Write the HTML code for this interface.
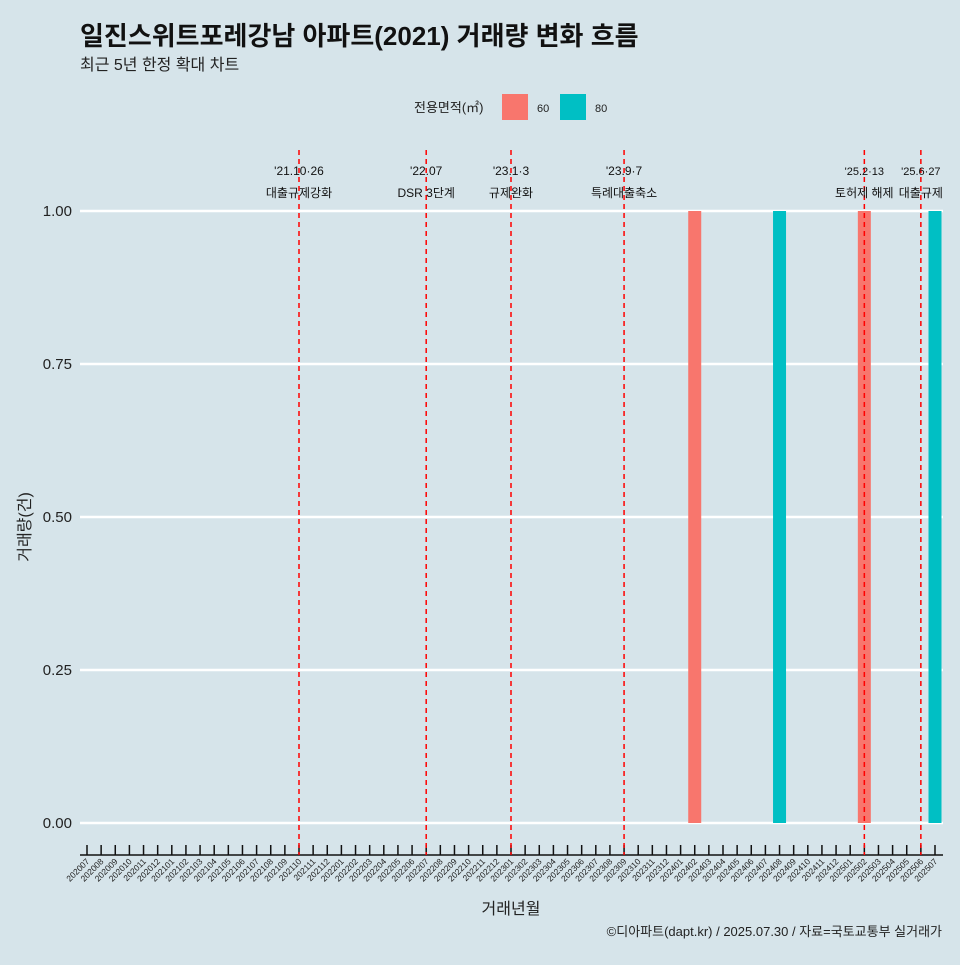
<!DOCTYPE html>
<html><head><meta charset="utf-8"><style>
body{margin:0;background:#d6e4ea;font-family:"Liberation Sans","Noto Sans CJK KR",sans-serif;}
</style></head><body>
<svg id="c" width="960" height="960" xmlns="http://www.w3.org/2000/svg" font-family="Liberation Sans, Noto Sans CJK KR, sans-serif">
<rect width="960" height="960" fill="#d6e4ea"/>
<text x="80" y="45" font-size="26" font-weight="bold" fill="#111">일진스위트포레강남 아파트(2021) 거래량 변화 흐름</text>
<text x="80" y="70" font-size="16" fill="#222">최근 5년 한정 확대 차트</text>
<g>
<text x="414" y="112" font-size="13" fill="#222">전용면적(㎡)</text>
<rect x="502" y="94" width="26" height="26" fill="#f8766d"/>
<text x="537" y="112" font-size="11" fill="#222">60</text>
<rect x="560" y="94" width="26" height="26" fill="#00bfc4"/>
<text x="595" y="112" font-size="11" fill="#222">80</text>
</g>
<g id="plot"></g>
<text x="20" y="517" font-size="16" fill="#222" transform="rotate(-90 30 517)" text-anchor="middle">거래량(건)</text>
<text x="511" y="914" font-size="16" fill="#222" text-anchor="middle">거래년월</text>
<text x="942" y="936" font-size="13" fill="#222" text-anchor="end">©디아파트(dapt.kr) / 2025.07.30 / 자료=국토교통부 실거래가</text>
</svg>
<script>
const months=[];for(let y=2020;y<=2025;y++)for(let m=1;m<=12;m++){const k=y*100+m;if(k>=202007&&k<=202507)months.push(String(k));}
const barMonths=["202402","202408","202502","202507"];
const barValues=[1,1,1,1];
const barSeries=["60","80","60","80"];
const yTicks=[0,0.25,0.5,0.75,1.0];
const eventMonths=["202110","202207","202301","202309","202502","202506"];
const eventLine1=["'21.10·26","'22.07","'23.1·3","'23.9·7","'25.2·13","'25.6·27"];
const eventLine2=["대출규제강화","DSR 3단계","규제완화","특례대출축소","토허제 해제","대출규제"];
const colors={"60":"#f8766d","80":"#00bfc4"};
const NS="http://www.w3.org/2000/svg";const g=document.getElementById('plot');
const xs=i=>87+i*(848/60);const ys=v=>823-v*612;
function mk(t,a,p){const e=document.createElementNS(NS,t);for(const k in a)e.setAttribute(k,a[k]);(p||g).appendChild(e);return e;}
yTicks.forEach(v=>{const l=mk('line',{x1:80,x2:943,y1:ys(v),y2:ys(v),stroke:'#fff','stroke-width':2.5});


const t=mk('text',{x:72,y:ys(v)+5,'font-size':15,'text-anchor':'end',fill:'#222'});t.textContent=v.toFixed(2);

});
barMonths.forEach((m,i)=>{const x=xs(months.indexOf(m));const r=mk('rect',{x:x-6.5,width:13,y:ys(barValues[i]),height:ys(0)-ys(barValues[i]),fill:colors[barSeries[i]]});

});
const ax=mk('line',{x1:80,x2:943,y1:855,y2:855,stroke:'#111','stroke-width':1.5});


months.forEach((m,i)=>{const x=xs(i);const tk=mk('line',{x1:x,x2:x,y1:845,y2:855,stroke:'#111','stroke-width':1.5});


const t=mk('text',{x:x+3,y:862,'font-size':8.5,'text-anchor':'end',fill:'#222',transform:`rotate(-45 ${x+3} 862)`});t.textContent=m;

});
eventMonths.forEach((m,i)=>{const x=xs(months.indexOf(m));const l=mk('line',{x1:x,x2:x,y1:150,y2:855,stroke:'#ff0000','stroke-width':1.5,'stroke-dasharray':'5,4'});


const fs=i>=4?11:12;
const t1=mk('text',{x:x,y:175,'font-size':fs,'text-anchor':'middle',fill:'#111'});t1.textContent=eventLine1[i];


const t2=mk('text',{x:x,y:197,'font-size':12,'text-anchor':'middle',fill:'#111'});t2.textContent=eventLine2[i];

});
</script>
</body></html>
